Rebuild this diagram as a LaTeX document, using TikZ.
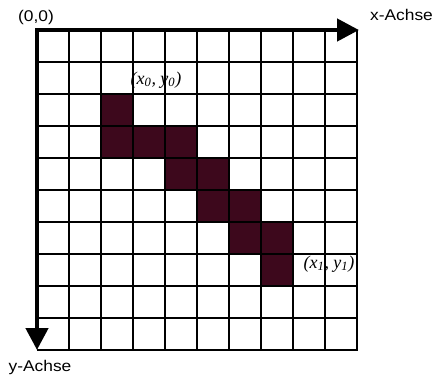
\documentclass[tikz,border=0pt]{standalone}
\usepackage{fontspec}
\setmainfont{Liberation Serif}
\setsansfont{Liberation Sans}
\usetikzlibrary{arrows.meta}
\definecolor{pix}{RGB}{61,8,28}
\tikzset{
  gridline/.style={line width=1.1pt, black},
  border/.style={line width=2.5pt, black},
  axis/.style={line width=4.5pt, black, -{Triangle[length=22pt,width=22pt]}},
  pixel/.style={fill=pix, draw=black, line width=1.1pt},
  axlabel/.style={font=\sffamily\fontsize{15.5}{17}\selectfont, inner sep=0pt},
  ptlabel/.style={font=\itshape\fontsize{18}{20}\selectfont, inner sep=0pt}
}
\begin{document}
\begin{tikzpicture}[x=1pt,y=-1pt]
\useasboundingbox (0,0) rectangle (436,378);
\fill[white] (0,0) rectangle (436,378);
% pixels (column, row) from top-left
\foreach \c/\r in {2/2, 2/3, 3/3, 4/3, 4/4, 5/4, 5/5, 6/5, 6/6, 7/6, 7/7}{
  \filldraw[pixel] ({37+32*\c},{30+32*\r}) rectangle ++(32,32);
}
% grid
\foreach \i in {1,...,9}{
  \draw[gridline] ({37+32*\i},30) -- ({37+32*\i},350);
  \draw[gridline] (37,{30+32*\i}) -- (357,{30+32*\i});
}
\coordinate (o) at (37,30);
\coordinate (tr) at (357,30);
\coordinate (br) at (357,350);
\coordinate (bl) at (37,350);
\coordinate (xend) at (359,30);
\draw[border] (tr) -- (br) -- (bl);
\draw[axis] (o) -- (xend);
\draw[axis] (o) -- (bl);
\fill[black] (34.75,27.75) rectangle (39.25,32.25);
% labels
\node[axlabel] (orig) at (36,17) {\scalebox{1.12}[1]{(0,0)}};
\node[axlabel] (xl) at (401.5,15) {\scalebox{1.12}[1]{x-Achse}};
\node[axlabel] (yl) at (40,367) {\scalebox{1.12}[1]{y-Achse}};
\node[ptlabel] (p0) at (156,80) {(x\textsubscript{0}, y\textsubscript{0})};
\node[ptlabel] (p1) at (329,264) {(x\textsubscript{1}, y\textsubscript{1})};
\end{tikzpicture}
\end{document}
